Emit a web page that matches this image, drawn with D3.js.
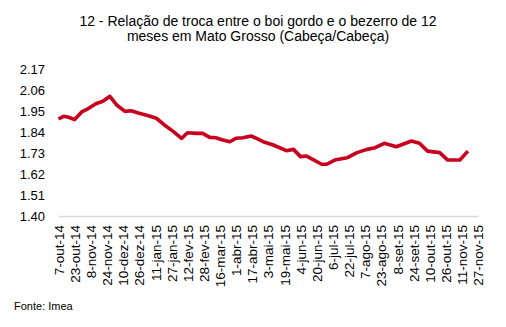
<!DOCTYPE html>
<html>
<head>
<meta charset="utf-8">
<script src="https://cdn.jsdelivr.net/npm/d3@7"></script>
<style>
  html, body { margin: 0; padding: 0; background: #fff; }
  svg text { font-family: "Liberation Sans", Arial, sans-serif; fill: #000; }
</style>
</head>
<body>
<svg id="chart" width="506" height="327"></svg>
<script>
// Relação de troca boi gordo / bezerro (cabeça/cabeça), Mato Grosso
const dates = [
  "2014-10-07","2014-10-12","2014-10-17","2014-10-23","2014-10-30","2014-11-04",
  "2014-11-13","2014-11-20","2014-11-27","2014-12-04","2014-12-12","2014-12-18",
  "2014-12-26","2015-01-05","2015-01-12","2015-01-20","2015-01-29","2015-02-06",
  "2015-02-12","2015-02-21","2015-02-27","2015-03-06","2015-03-12","2015-03-19",
  "2015-03-26","2015-04-01","2015-04-08","2015-04-16","2015-04-23","2015-04-28",
  "2015-05-08","2015-05-21","2015-05-28","2015-06-04","2015-06-10","2015-06-25",
  "2015-06-30","2015-07-08","2015-07-20","2015-07-30","2015-08-09","2015-08-17",
  "2015-08-26","2015-09-07","2015-09-22","2015-09-30","2015-10-08","2015-10-20",
  "2015-10-28","2015-11-09","2015-11-17"
];
const values = [
  1.908, 1.922, 1.917, 1.905, 1.945, 1.958,
  1.988, 2.001, 2.027, 1.980, 1.948, 1.951,
  1.938, 1.924, 1.912, 1.877, 1.842, 1.807,
  1.836, 1.833, 1.833, 1.812, 1.810, 1.798,
  1.789, 1.807, 1.810, 1.819, 1.803, 1.789,
  1.772, 1.742, 1.749, 1.711, 1.714, 1.671,
  1.671, 1.693, 1.705, 1.732, 1.749, 1.758,
  1.781, 1.763, 1.793, 1.781, 1.740, 1.732,
  1.693, 1.693, 1.740
];
const yTicks = [1.40, 1.51, 1.62, 1.73, 1.84, 1.95, 2.06, 2.17];
const tickStart = "2014-10-07";
const tickEnd = "2015-11-27";
const tickStepDays = 16;
const monthNames = ["jan","fev","mar","abr","mai","jun","jul","ago","set","out","nov","dez"];
const titleLines = [
  "12 - Relação de troca entre o boi gordo e o bezerro de 12",
  "meses em Mato Grosso (Cabeça/Cabeça)"
];
const sourceText = "Fonte: Imea";

const parse = d3.utcParse("%Y-%m-%d");
const data = dates.map((d, i) => ({ date: parse(d), value: values[i] }));

const tickDates = [];
for (let t = parse(tickStart); t <= parse(tickEnd); t = d3.utcDay.offset(t, tickStepDays)) {
  tickDates.push(t);
}
const fmtDate = t => `${t.getUTCDate()}-${monthNames[t.getUTCMonth()]}-${String(t.getUTCFullYear()).slice(2)}`;

const svg = d3.select("#chart");
const plotLeft = 58.5, plotRight = 478, plotTop = 69, plotBottom = 216;

const x = d3.scaleUtc().domain([parse(tickStart), parse(tickEnd)]).range([plotLeft, plotRight]);
const y = d3.scaleLinear().domain([1.40, 2.17]).range([plotBottom, plotTop]);

// title
svg.append("text")
  .attr("x", 258).attr("y", 26)
  .attr("text-anchor", "middle")
  .style("font-size", "14px")
  .selectAll("tspan").data(titleLines).join("tspan")
  .attr("x", 258).attr("dy", (d, i) => i === 0 ? 0 : 14.5)
  .text(d => d);

// y axis (labels only)
const yAxis = d3.axisLeft(y).tickValues(yTicks).tickFormat(d3.format(".2f")).tickSize(0).tickPadding(0);
const gy = svg.append("g").attr("transform", `translate(${plotLeft - 13.5},0)`).call(yAxis);
gy.select(".domain").remove();
gy.selectAll("text").style("font-size", "13px").attr("font-family", "Liberation Sans, Arial, sans-serif");

// x axis
const xAxis = d3.axisBottom(x).tickValues(tickDates).tickFormat(fmtDate).tickSize(0).tickPadding(0);
const gx = svg.append("g").attr("transform", `translate(0,${plotBottom})`).call(xAxis);
gx.select(".domain").attr("stroke", "#d9d9d9").attr("stroke-width", 1.5);
gx.selectAll("text")
  .style("font-size", "13.5px")
  .attr("font-family", "Liberation Sans, Arial, sans-serif")
  .attr("text-anchor", "end")
  .attr("dy", "0.35em")
  .attr("transform", "translate(0,9) rotate(-90)")
  .attr("x", 0).attr("y", 0);

// series line
const line = d3.line().x(d => x(d.date)).y(d => y(d.value));
svg.append("path")
  .datum(data)
  .attr("fill", "none")
  .attr("stroke", "#c8001e")
  .attr("stroke-width", 3.6)
  .attr("stroke-linejoin", "round")
  .attr("d", line);

// source
svg.append("text")
  .attr("x", 14).attr("y", 310)
  .style("font-size", "11px")
  .text(sourceText);
</script>
</body>
</html>
